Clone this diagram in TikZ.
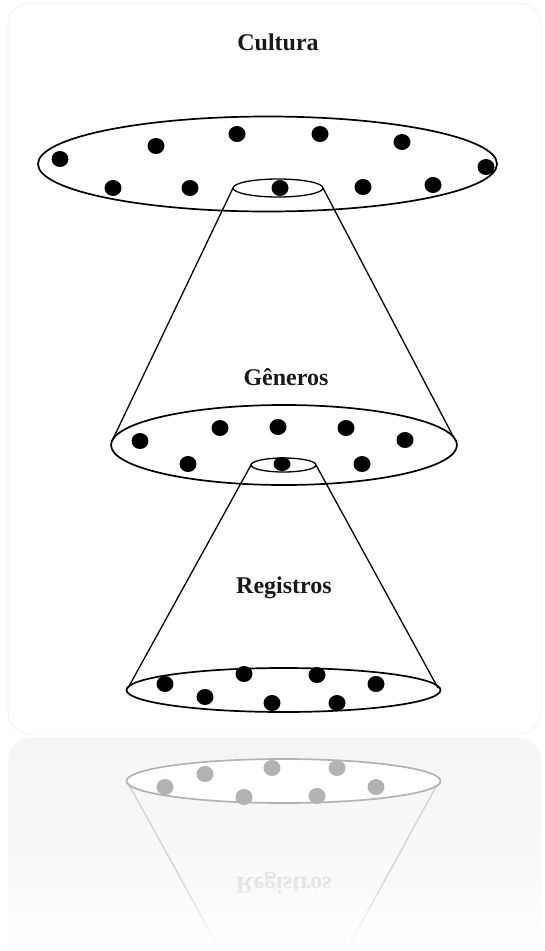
\documentclass[tikz,border=0pt]{standalone}
\usepackage{fontspec}
\setmainfont{Liberation Serif}
\usetikzlibrary{fadings}
\begin{document}
\begin{tikzpicture}[x=1pt,y=-1pt,
  rim/.style={line width=1.7pt},
  side/.style={line width=1.3pt, line cap=round},
  dotf/.style={fill=black},
  lbl/.style={font=\bfseries\fontsize{24}{28}\selectfont, inner sep=0pt, text=black!90}]
\useasboundingbox (0,0) rectangle (544,951);
% outer frame
\draw[black!6, line width=0.8pt, rounded corners=22pt] (8,3) rectangle (541,734);
% reflection background
\begin{scope}
\clip (0,737) rectangle (544,951);
\shade[top color=black!4, bottom color=black!1, rounded corners=22pt] (8,738) rectangle (541,990);
\end{scope}

% labels
\node[lbl] (cult) at (278,42) {Cultura};
\node[lbl] (gen) at (286,377) {Gêneros};
\node[lbl] (reg) at (284,588) {Registros};

% top ellipse
\draw[rim] (267.5,164) ellipse [x radius=229.5pt, y radius=47.5pt];
\foreach \p in {(60,159),(156,146),(237,134),(320,134),(402,142),(486,167),(113,188),(190,188),(280,188),(363,187),(433,185)}
  \fill[dotf] \p ellipse [x radius=8.5pt, y radius=8pt];
% top small ellipse (apex of cone 1)
\coordinate (a1l) at (233,188);
\coordinate (a1r) at (323,188);
\draw[side] (278,188) ellipse [x radius=45pt, y radius=9pt];
% middle ellipse
\coordinate (b1l) at (112,441);
\coordinate (b1r) at (454,438);
\draw[side] (a1l) -- (b1l);
\draw[side] (a1r) -- (b1r);
\draw[rim] (284,445) ellipse [x radius=173pt, y radius=40pt];
\foreach \p in {(140,441),(220,428),(278,427),(346,428),(405,440),(188,464),(362,464)}
  \fill[dotf] \p ellipse [x radius=8.5pt, y radius=8pt];
\fill[dotf] (282,464) ellipse [x radius=8.5pt, y radius=7pt];
% middle small ellipse
\coordinate (a2l) at (251,465);
\coordinate (a2r) at (316,465);
\draw[side] (283.5,465) ellipse [x radius=32.5pt, y radius=7pt];
% bottom ellipse
\coordinate (b2l) at (128,688);
\coordinate (b2r) at (438,688);
\draw[side] (a2l) -- (b2l);
\draw[side] (a2r) -- (b2r);
\draw[rim] (283.5,690) ellipse [x radius=157pt, y radius=22pt];
\foreach \p in {(165,684),(205,697),(244,674),(272,703),(317,675),(337,703),(376,684)}
  \fill[dotf] \p ellipse [x radius=8.5pt, y radius=8pt];

% reflection
\begin{scope}[shift={(0,1471)}, yscale=-1]
  \coordinate (rb2l) at (128,688);
  \coordinate (rb2r) at (438,688);
  \coordinate (ra2l) at (251,465);
  \coordinate (ra2r) at (316,465);
  \draw[black!18, line width=1.3pt] (ra2l) -- (rb2l);
  \draw[black!18, line width=1.3pt] (ra2r) -- (rb2r);
  \fill[white] (283.5,690) ellipse [x radius=157pt, y radius=22pt];
  \draw[black!30, line width=1.7pt] (283.5,690) ellipse [x radius=157pt, y radius=22pt];
  \foreach \p in {(165,684),(205,697),(244,674),(272,703),(317,675),(337,703),(376,684)}
    \fill[black!30] \p ellipse [x radius=8.5pt, y radius=8pt];
  \node[lbl, text=black!12, transform shape] (rreg) at (284,588) {Registros};
\end{scope}
% fade the reflection towards the bottom
\fill[white, path fading=north] (0,870) rectangle (544,951);
\end{tikzpicture}
\end{document}
